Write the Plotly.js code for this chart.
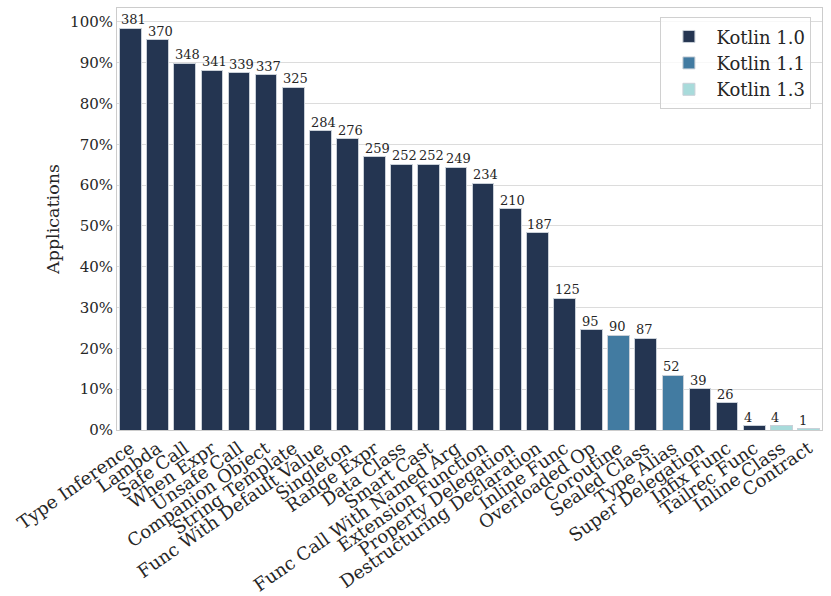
<!DOCTYPE html>
<html>
<head>
<meta charset="utf-8">
<script src="https://cdn.plot.ly/plotly-3.0.1.min.js"></script>
<style>html,body{margin:0;padding:0;background:#fff;}#chart{width:831px;height:596px;}</style>
</head>
<body>
<div id="chart"></div>
<script>
var categories = ["Type Inference","Lambda","Safe Call","When Expr","Unsafe Call","Companion Object","String Template","Func With Default Value","Singleton","Range Expr","Data Class","Smart Cast","Func Call With Named Arg","Extension Function","Property Delegation","Destructuring Declaration","Inline Func","Overloaded Op","Coroutine","Sealed Class","Type Alias","Super Delegation","Infix Func","Tailrec Func","Inline Class","Contract"];
var counts = [381,370,348,341,339,337,325,284,276,259,252,252,249,234,210,187,125,95,90,87,52,39,26,4,4,1];
var versions = ["Kotlin 1.0","Kotlin 1.0","Kotlin 1.0","Kotlin 1.0","Kotlin 1.0","Kotlin 1.0","Kotlin 1.0","Kotlin 1.0","Kotlin 1.0","Kotlin 1.0","Kotlin 1.0","Kotlin 1.0","Kotlin 1.0","Kotlin 1.0","Kotlin 1.0","Kotlin 1.0","Kotlin 1.0","Kotlin 1.0","Kotlin 1.1","Kotlin 1.0","Kotlin 1.1","Kotlin 1.0","Kotlin 1.0","Kotlin 1.0","Kotlin 1.3","Kotlin 1.3"];
var versionNames = ["Kotlin 1.0","Kotlin 1.1","Kotlin 1.3"];
var versionColors = ["#243551","#427ba1","#a8dbdb"];
var totalApps = 387;
var yTickVals = [0,0.1,0.2,0.3,0.4,0.5,0.6,0.7,0.8,0.9,1.0];

var FONT = "DejaVu Serif";
var shares = counts.map(function(c){return c/totalApps;});

var traces = versionNames.map(function(v, vi){
  return {
    type: "bar",
    name: v,
    x: categories,
    y: shares.map(function(s, i){ return versions[i] === v ? s : null; }),
    width: 0.8,
    marker: {color: versionColors[vi], line: {color: "#c9d0d8", width: 1}},
    hoverinfo: "skip"
  };
});

var plotW = 831 - 117 - 9;
var halfBarPx = plotW / categories.length * 0.8 / 2;

var annotations = categories.map(function(c, i){
  return {
    x: c, y: shares[i], xref: "x", yref: "y",
    text: String(counts[i]), showarrow: false,
    xanchor: "left", yanchor: "bottom", xshift: -halfBarPx - 1, yshift: -1,
    font: {family: FONT, size: 13, color: "#262626"}
  };
});

var layout = {
  width: 831, height: 596,
  margin: {l: 117, r: 9, t: 8, b: 166},
  paper_bgcolor: "#fff", plot_bgcolor: "#fff",
  barmode: "stack",
  bargap: 0.2,
  font: {family: FONT, color: "#262626"},
  showlegend: true,
  legend: {
    x: 0.985, y: 0.978, xanchor: "right", yanchor: "top",
    bgcolor: "rgba(255,255,255,0.8)", bordercolor: "#d0d0d0", borderwidth: 1,
    font: {family: FONT, size: 18, color: "#262626"},
    itemwidth: 45,
    traceorder: "normal"
  },
  xaxis: {
    type: "category",
    tickangle: -35,
    tickfont: {family: FONT, size: 18, color: "#262626"},
    showgrid: false, showline: true, mirror: true, linecolor: "#cccccc", linewidth: 1,
    ticks: "", range: [-0.5, categories.length - 0.5], fixedrange: true
  },
  yaxis: {
    range: [0, 1.034],
    tickvals: yTickVals,
    tickformat: ".0%",
    tickfont: {family: FONT, size: 15, color: "#262626"},
    showgrid: true, gridcolor: "#dcdcdc", gridwidth: 1,
    showline: true, mirror: true, linecolor: "#cccccc", linewidth: 1,
    zeroline: false, ticks: "",
    title: {text: "Applications", font: {family: FONT, size: 17.5, color: "#262626"}, standoff: 5}
  },
  annotations: annotations
};

Plotly.newPlot("chart", traces, layout, {displayModeBar: false, staticPlot: true});
</script>
</body>
</html>
